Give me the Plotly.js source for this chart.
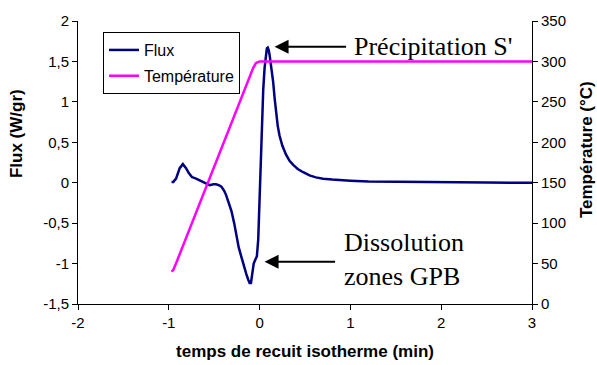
<!DOCTYPE html>
<html>
<head>
<meta charset="utf-8">
<script src="https://cdn.plot.ly/plotly-3.0.1.min.js"></script>
<style>html,body{margin:0;padding:0;background:#fff;}#chart{width:597px;height:365px;}</style>
</head>
<body>
<div id="chart"></div>
<script>
// Flux (W/gr) vs time (min)
const fluxX = [-0.97,-0.95,-0.92,-0.88,-0.845,-0.81,-0.78,-0.745,-0.70,-0.66,-0.62,-0.58,-0.55,-0.51,-0.48,-0.45,-0.42,-0.39,-0.37,-0.34,-0.31,-0.28,-0.257,-0.23,-0.20,-0.17,-0.146,-0.125,-0.11,-0.095,-0.08,-0.065,-0.05,-0.03,-0.015,-0.005,0.01,0.025,0.04,0.055,0.07,0.08,0.09,0.10,0.11,0.12,0.135,0.15,0.165,0.18,0.20,0.22,0.25,0.29,0.33,0.37,0.42,0.48,0.55,0.62,0.70,0.80,0.90,1.0,1.2,1.5,2.0,2.5,3.0];
const fluxY = [0.01,0.01,0.05,0.18,0.23,0.18,0.12,0.07,0.05,0.03,0.00,-0.02,-0.03,-0.02,-0.02,-0.03,-0.05,-0.10,-0.15,-0.25,-0.35,-0.50,-0.66,-0.80,-0.92,-1.05,-1.13,-1.20,-1.24,-1.24,-1.12,-1.00,-0.96,-0.91,-0.70,-0.35,0.35,0.80,1.15,1.42,1.60,1.66,1.67,1.64,1.58,1.50,1.38,1.24,1.05,0.86,0.70,0.58,0.46,0.35,0.27,0.22,0.17,0.13,0.09,0.066,0.05,0.04,0.03,0.025,0.015,0.01,0.005,0.002,0.0];
// Temperature (°C) vs time (min)
const tempX = [-0.97,-0.95,-0.90,-0.50,-0.10,-0.07,-0.04,0.0,0.5,1.0,2.0,3.0];
const tempY = [40,42,56,170,284,292,298,300,300,300,300,300];
// Tick labels
const xTickVals = [-2,-1,0,1,2,3];
const xTickText = ["-2","-1","0","1","2","3"];
const yTickVals = [-1.5,-1,-0.5,0,0.5,1,1.5,2];
const yTickText = ["-1,5","-1","-0,5","0","0,5","1","1,5","2"];
const y2TickVals = [0,50,100,150,200,250,300,350];
const y2TickText = ["0","50","100","150","200","250","300","350"];

const traces = [
  {x: fluxX, y: fluxY, type: 'scatter', mode: 'lines', name: 'Flux', legendgroup: 'a',
   line: {color: '#000080', width: 2.5}},
  {x: tempX, y: tempY, type: 'scatter', mode: 'lines', name: 'Température', legendgroup: 'b',
   yaxis: 'y2', line: {color: '#FF00FF', width: 2.5}}
];

const tickFont = {family: 'Arial, Liberation Sans, sans-serif', size: 15, color: '#000'};
const titleFont = {family: 'Arial, Liberation Sans, sans-serif', size: 17, color: '#000', weight: 'bold'};
const annFont = {family: 'Times New Roman, Liberation Serif, serif', size: 26, color: '#000'};

const layout = {
  width: 597, height: 365,
  margin: {l: 78, r: 65, t: 21, b: 61, pad: 0},
  paper_bgcolor: '#fff', plot_bgcolor: '#fff',
  showlegend: true,
  legend: {x: 0.055, y: 0.961, xanchor: 'left', yanchor: 'top', bgcolor: '#fff',
    bordercolor: '#000', borderwidth: 1, font: {family: 'Arial, Liberation Sans, sans-serif', size: 16, color: '#000'},
    traceorder: 'grouped', tracegroupgap: 2, itemwidth: 30},
  xaxis: {range: [-2, 3], tickvals: xTickVals, ticktext: xTickText, ticks: 'outside', ticklen: 5,
    tickcolor: '#000', showline: true, linecolor: '#000', linewidth: 1, showgrid: false, zeroline: false,
    tickfont: tickFont, automargin: false,
    title: {text: 'temps de recuit isotherme (min)', font: titleFont, standoff: 15}},
  yaxis: {range: [-1.5, 2], tickvals: yTickVals, ticktext: yTickText, ticks: 'outside', ticklen: 5,
    tickcolor: '#000', showline: true, linecolor: '#000', linewidth: 1, showgrid: false, zeroline: false,
    tickfont: tickFont, automargin: false},
  yaxis2: {range: [0, 350], tickvals: y2TickVals, ticktext: y2TickText, overlaying: 'y', side: 'right',
    ticks: 'outside', ticklen: 5, tickcolor: '#000', showline: true, linecolor: '#000', linewidth: 1,
    showgrid: false, zeroline: false, tickfont: tickFont, automargin: false},
  annotations: [
    {x: -0.134, y: 0.601, xref: 'paper', yref: 'paper', text: 'Flux (W/gr)', textangle: -90,
     showarrow: false, xanchor: 'center', yanchor: 'middle', font: titleFont},
    {x: 1.119, y: 0.544, xref: 'paper', yref: 'paper', text: 'Température (°C)', textangle: -90,
     showarrow: false, xanchor: 'center', yanchor: 'middle', font: titleFont},
    {x: 0.165, y: 1.683, xref: 'x', yref: 'y', text: '', showarrow: true, ax: 73, ay: 0,
     arrowhead: 2, arrowsize: 1.4, arrowwidth: 2, arrowcolor: '#000'},
    {x: 1.02, y: 1.683, xref: 'x', yref: 'y', text: "Précipitation S'", showarrow: false,
     xanchor: 'left', yanchor: 'middle', font: annFont},
    {x: 0.055, y: -0.978, xref: 'x', yref: 'y', text: '', showarrow: true, ax: 72, ay: 0,
     arrowhead: 2, arrowsize: 1.4, arrowwidth: 2, arrowcolor: '#000'},
    {x: 0.905, y: -0.953, xref: 'x', yref: 'y', text: 'Dissolution<br>zones GPB', showarrow: false,
     xanchor: 'left', yanchor: 'middle', align: 'left', font: annFont}
  ]
};

Plotly.newPlot('chart', traces, layout, {displayModeBar: false, staticPlot: true});
</script>
</body>
</html>
